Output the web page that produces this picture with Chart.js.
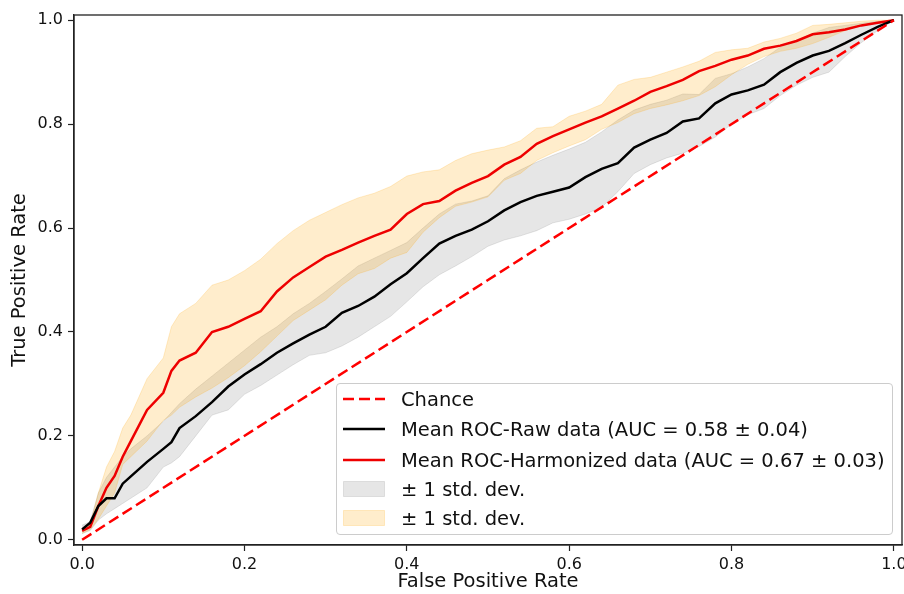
<!DOCTYPE html>
<html>
<head>
<meta charset="utf-8">
<script src="https://cdn.jsdelivr.net/npm/chart.js@4.4.1/dist/chart.umd.min.js"></script>
<style>
  body { margin: 0; background: #fff; }
  #wrap { position: relative; width: 904px; height: 594px; }
  #legend {
    position: absolute; left: 336px; top: 383px; width: 555px; height: 150px;
    border: 1px solid #cccccc; border-radius: 4px; background: rgba(255,255,255,0.8);
    font-family: "DejaVu Sans", sans-serif; font-size: 19.5px; color: #111;
  }
  .item { position: absolute; left: 0; height: 30px; display: flex; align-items: center; }
  .item svg { margin-left: 6px; margin-right: 16px; }
</style>
</head>
<body>
<div id="wrap">
  <canvas id="roc" width="904" height="594"></canvas>
  <div id="legend"></div>
</div>
<script>
// false positive rate grid
const fpr = [0, 0.01, 0.02, 0.03, 0.04, 0.05, 0.06, 0.08, 0.10, 0.11, 0.12, 0.14, 0.16, 0.18, 0.20,
  0.22, 0.24, 0.26, 0.28, 0.30, 0.32, 0.34, 0.36, 0.38, 0.40, 0.42, 0.44, 0.46, 0.48, 0.50,
  0.52, 0.54, 0.56, 0.58, 0.60, 0.62, 0.64, 0.66, 0.68, 0.70, 0.72, 0.74, 0.76, 0.78, 0.80,
  0.82, 0.84, 0.86, 0.88, 0.90, 0.92, 0.94, 0.96, 0.98, 1.00];

// mean ROC, raw data
const tprRaw = [0.020, 0.033, 0.065, 0.080, 0.080, 0.108, 0.122, 0.150, 0.175, 0.188, 0.215, 0.238, 0.265, 0.295, 0.318,
  0.338, 0.360, 0.378, 0.395, 0.410, 0.437, 0.450, 0.468, 0.492, 0.513, 0.542, 0.570, 0.585, 0.597, 0.613,
  0.634, 0.650, 0.662, 0.670, 0.678, 0.698, 0.714, 0.725, 0.755, 0.770, 0.783, 0.805, 0.811, 0.840, 0.857,
  0.865, 0.876, 0.900, 0.918, 0.932, 0.941, 0.956, 0.972, 0.987, 1.000];
const rawUpper = [0.028, 0.035, 0.090, 0.120, 0.140, 0.160, 0.175, 0.200, 0.228, 0.245, 0.262, 0.290, 0.315, 0.340, 0.365,
  0.390, 0.410, 0.435, 0.455, 0.478, 0.502, 0.527, 0.542, 0.557, 0.572, 0.600, 0.627, 0.646, 0.652, 0.662,
  0.695, 0.712, 0.727, 0.740, 0.752, 0.765, 0.785, 0.808, 0.827, 0.838, 0.846, 0.858, 0.857, 0.888, 0.897,
  0.910, 0.926, 0.948, 0.960, 0.975, 0.986, 0.990, 0.994, 0.998, 1.000];
const rawLower = [0.012, 0.018, 0.038, 0.050, 0.060, 0.070, 0.080, 0.100, 0.140, 0.148, 0.160, 0.200, 0.240, 0.250, 0.280,
  0.297, 0.317, 0.337, 0.355, 0.360, 0.373, 0.390, 0.410, 0.430, 0.458, 0.487, 0.510, 0.527, 0.545, 0.565,
  0.577, 0.585, 0.595, 0.610, 0.617, 0.627, 0.640, 0.670, 0.705, 0.722, 0.735, 0.744, 0.757, 0.775, 0.800,
  0.818, 0.830, 0.855, 0.875, 0.890, 0.900, 0.930, 0.957, 0.980, 1.000];

// mean ROC, harmonized data
const tprHarm = [0.017, 0.025, 0.065, 0.100, 0.123, 0.160, 0.190, 0.250, 0.283, 0.325, 0.345, 0.360, 0.400, 0.410, 0.425,
  0.440, 0.478, 0.505, 0.525, 0.545, 0.558, 0.572, 0.585, 0.597, 0.627, 0.646, 0.652, 0.672, 0.687, 0.700,
  0.722, 0.737, 0.762, 0.777, 0.790, 0.803, 0.815, 0.830, 0.845, 0.862, 0.873, 0.885, 0.902, 0.912, 0.924,
  0.932, 0.945, 0.951, 0.960, 0.973, 0.977, 0.982, 0.990, 0.995, 1.000];
const harmUpper = [0.020, 0.030, 0.090, 0.140, 0.170, 0.215, 0.240, 0.310, 0.350, 0.410, 0.435, 0.455, 0.490, 0.500, 0.518,
  0.540, 0.570, 0.595, 0.615, 0.630, 0.645, 0.658, 0.667, 0.680, 0.700, 0.708, 0.712, 0.730, 0.743, 0.750,
  0.756, 0.768, 0.792, 0.795, 0.815, 0.825, 0.838, 0.875, 0.886, 0.890, 0.900, 0.910, 0.921, 0.938, 0.943,
  0.946, 0.958, 0.965, 0.975, 0.990, 0.992, 0.995, 0.998, 1.000, 1.000];
const harmLower = [0.012, 0.020, 0.040, 0.065, 0.090, 0.145, 0.160, 0.190, 0.230, 0.240, 0.255, 0.275, 0.292, 0.312, 0.335,
  0.362, 0.392, 0.422, 0.442, 0.462, 0.490, 0.512, 0.522, 0.542, 0.553, 0.592, 0.620, 0.642, 0.650, 0.660,
  0.692, 0.705, 0.730, 0.745, 0.758, 0.770, 0.790, 0.803, 0.820, 0.830, 0.837, 0.845, 0.855, 0.872, 0.895,
  0.915, 0.930, 0.940, 0.946, 0.955, 0.967, 0.980, 0.990, 0.995, 1.000];

const chanceX = [0, 1];
const chanceY = [0, 1];

const xTicks = [0, 0.2, 0.4, 0.6, 0.8, 1.0];
const yTicks = [0, 0.2, 0.4, 0.6, 0.8, 1.0];

const labels = ['Chance', 'Mean ROC-Raw data (AUC = 0.58 \u00b1 0.04)', 'Mean ROC-Harmonized data (AUC = 0.67 \u00b1 0.03)',
  '\u00b1 1 std. dev.', '\u00b1 1 std. dev.'];

const pts = (xs, ys) => xs.map((x, i) => ({ x: x, y: ys[i] }));

const grayFill = 'rgba(128,128,128,0.2)';
const orangeFill = 'rgba(255,165,0,0.2)';
const font = 'DejaVu Sans';

// full box round the plot, like matplotlib spines
const frame = {
  id: 'frame',
  afterDraw(chart) {
    const a = chart.chartArea, ctx = chart.ctx;
    ctx.save();
    ctx.strokeStyle = '#222';
    ctx.lineWidth = 1.3;
    ctx.strokeRect(a.left, a.top, a.right - a.left, a.bottom - a.top);
    ctx.restore();
  }
};

const ctx = document.getElementById('roc').getContext('2d');
const chart = new Chart(ctx, {
  type: 'line',
  data: {
    datasets: [
      { label: labels[0], data: pts(chanceX, chanceY), borderColor: '#ff0000', borderWidth: 2.5, borderDash: [11, 5], fill: false },
      { label: labels[1], data: pts(fpr, tprRaw), borderColor: '#000000', borderWidth: 2.5, fill: false },
      { label: labels[2], data: pts(fpr, tprHarm), borderColor: '#ee0000', borderWidth: 2.5, fill: false },
      { label: labels[4], data: pts(fpr, harmUpper), borderColor: orangeFill, borderWidth: 1, backgroundColor: orangeFill, fill: '+1' },
      { label: 'harmLower', data: pts(fpr, harmLower), borderColor: orangeFill, borderWidth: 1, fill: false },
      { label: labels[3], data: pts(fpr, rawUpper), borderColor: grayFill, borderWidth: 1, backgroundColor: grayFill, fill: '+1' },
      { label: 'rawLower', data: pts(fpr, rawLower), borderColor: grayFill, borderWidth: 1, fill: false }
    ]
  },
  options: {
    responsive: false,
    animation: false,
    devicePixelRatio: 1,
    elements: { point: { radius: 0 }, line: { tension: 0 } },
    layout: { padding: { top: 15, right: 2, left: 0, bottom: 0 } },
    plugins: { legend: { display: false }, tooltip: { enabled: false } },
    scales: {
      x: {
        type: 'linear', min: -0.01, max: 1.01,
        afterBuildTicks: a => { a.ticks = xTicks.map(v => ({ value: v })); },
        afterFit: a => { a.height = 49; a.paddingLeft = 0; a.paddingRight = 0; },
        ticks: { callback: v => v.toFixed(1), font: { family: font, size: 16 }, color: '#111', padding: 4, maxRotation: 0 },
        grid: { drawOnChartArea: false, tickLength: 6, tickWidth: 1.2, color: '#222' },
        border: { color: '#222', width: 1.3 },
        title: { display: true, text: 'False Positive Rate', font: { family: font, size: 19.5 }, color: '#111', padding: { top: 0, bottom: 0 } }
      },
      y: {
        type: 'linear', min: -0.01, max: 1.01,
        afterBuildTicks: a => { a.ticks = yTicks.map(v => ({ value: v })); },
        afterFit: a => { a.width = 74; a.paddingTop = 0; a.paddingBottom = 0; },
        ticks: { callback: v => v.toFixed(1), font: { family: font, size: 16 }, color: '#111', padding: 5 },
        grid: { drawOnChartArea: false, tickLength: 6, tickWidth: 1.2, color: '#222' },
        border: { color: '#222', width: 1.3 },
        title: { display: true, text: 'True Positive Rate', font: { family: font, size: 19.5 }, color: '#111', padding: { top: 8, bottom: 0 } }
      }
    }
  },
  plugins: [frame]
});

// legend drawn inside the axes, lower right
const legendRows = [
  { text: labels[0], kind: 'line', color: '#ff0000', dash: '11 5' },
  { text: labels[1], kind: 'line', color: '#000000' },
  { text: labels[2], kind: 'line', color: '#ee0000' },
  { text: labels[3], kind: 'patch', color: grayFill },
  { text: labels[4], kind: 'patch', color: orangeFill }
];
const rowTops = [0, 30, 61, 90, 119];
const box = document.getElementById('legend');
legendRows.forEach((r, i) => {
  const d = document.createElement('div');
  d.className = 'item';
  d.style.top = rowTops[i] + 'px';
  let svg;
  if (r.kind === 'line') {
    svg = '<svg width="42" height="10"><line x1="0" y1="5" x2="42" y2="5" stroke="' + r.color +
      '" stroke-width="2.5"' + (r.dash ? ' stroke-dasharray="' + r.dash + '"' : '') + '/></svg>';
  } else {
    svg = '<svg width="42" height="16"><rect x="0.5" y="0.5" width="41" height="15" fill="' + r.color +
      '" stroke="' + r.color + '"/></svg>';
  }
  d.innerHTML = svg + '<span>' + r.text + '</span>';
  box.appendChild(d);
});
</script>
</body>
</html>
